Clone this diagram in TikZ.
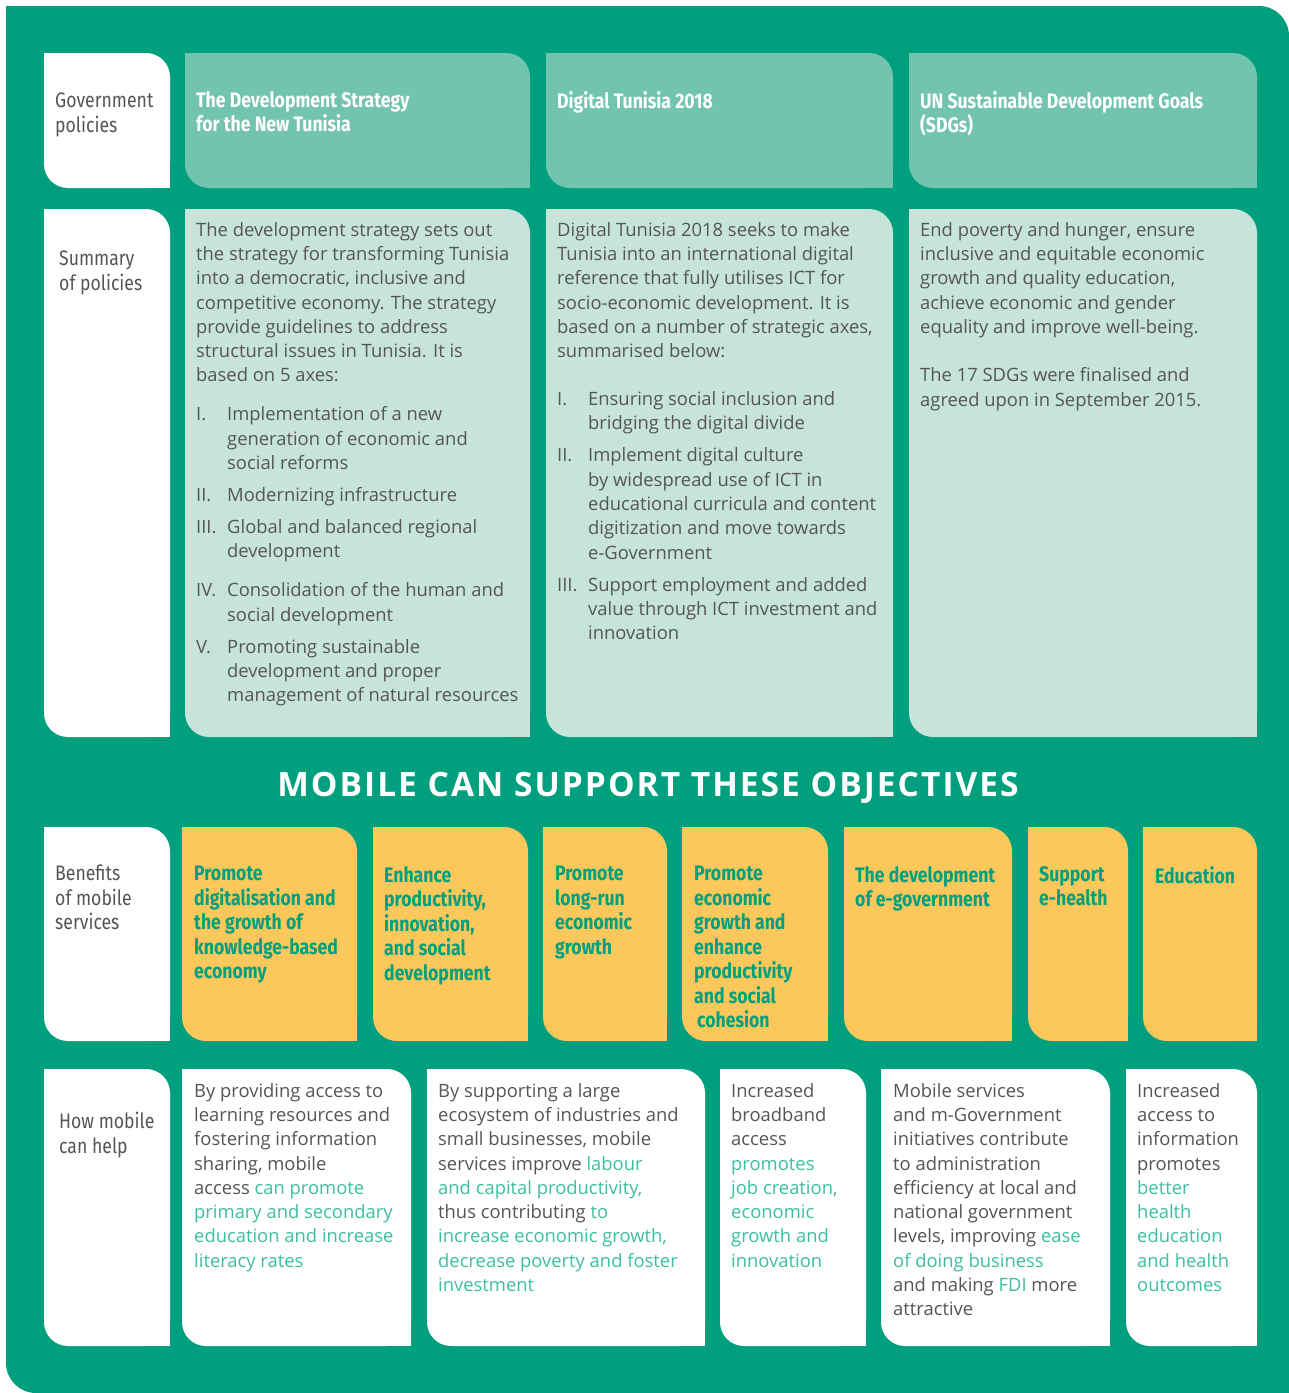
\documentclass[tikz,border=0pt]{standalone}
\usepackage{fontspec}
\setmainfont{Open Sans}
\newfontfamily\condfont[FakeStretch=0.84]{Fira Sans}
\newfontfamily\titlefont[LetterSpace=6]{Open Sans}
\usetikzlibrary{positioning}

\definecolor{mgreen}{RGB}{0,160,126}
\definecolor{headteal}{RGB}{114,196,174}
\definecolor{sumteal}{RGB}{199,228,218}
\definecolor{orangebox}{RGB}{252,200,92}
\definecolor{tealtxt}{RGB}{62,190,160}
\definecolor{greytxt}{RGB}{85,85,87}

% box with rounded top-right and bottom-left corners
\newcommand{\cellbox}[5]{%
  \fill[#1, rounded corners=24pt] (#2,#3) rectangle (#4,#5);
  \fill[#1] (#2,#3) rectangle ++(24,24);
  \fill[#1] (#4,#5) rectangle ++(-24,-24);
}
\newcommand{\itm}[1]{\makebox[31pt][l]{#1}}
\newcommand{\ind}{\hspace*{31pt}}
\newcommand{\tl}[1]{\textcolor{tealtxt}{#1}}

\tikzset{
  txt/.style={anchor=north west, inner sep=0pt, align=left},
  body/.style={txt, text=greytxt, font=\fontsize{18.4}{24.3}\selectfont},
  rowlbl/.style={txt, text=greytxt, font=\condfont\fontsize{21}{24.5}\selectfont},
  headtxt/.style={txt, text=white, font=\condfont\bfseries\fontsize{21}{24.5}\selectfont},
  benefit/.style={txt, text=mgreen, font=\condfont\bfseries\fontsize{21}{24.5}\selectfont},
}

\begin{document}
\begin{tikzpicture}[x=1pt, y=-1pt]
	\fill[white] (0,0) rectangle (1289,1393);
	\useasboundingbox (0,0) rectangle (1289,1393);
	\begin{scope}[rounded corners=30pt]
	\fill[mgreen] (6,6) rectangle (1289,1393);
	\end{scope}
	\fill[mgreen] (6,6) rectangle ++(30,30);
	\fill[mgreen] (1289,1393) rectangle ++(-30,-30);

	% row labels
	\foreach \ya/\yb in {53/188, 209/737, 827/1041, 1069/1346} {
		\cellbox{white}{44}{\ya}{170}{\yb}
	}
	\foreach \xa/\xb in {185/530, 546/893, 909/1257} {
		\cellbox{headteal}{\xa}{53}{\xb}{188}
		\cellbox{sumteal}{\xa}{209}{\xb}{737}
	}
	\foreach \xa/\xb in {182/357, 373/528, 543/667, 682/828, 844/1012, 1028/1128, 1143/1257} {
		\cellbox{orangebox}{\xa}{827}{\xb}{1041}
	}
	\foreach \xa/\xb in {182/411, 427/705, 720/866, 881/1110, 1126/1257} {
		\cellbox{white}{\xa}{1069}{\xb}{1346}
	}

	\node[rowlbl] (govlbl) at (55,93) {Government\\policies};
	\node[rowlbl] (sumlbl) at (59,251) {Summary\\of policies};
	\node[rowlbl] (benlbl) at (55,865) {Benefits\\of mobile\\services};
	\node[rowlbl] (howlbl) at (59,1112) {How mobile\\can help};

	\node[headtxt] (strat) at (196,91) {The Development Strategy\\for the New Tunisia};
	\node[headtxt] (digit) at (557,91) {Digital Tunisia 2018};
	\node[headtxt] (sdg) at (920,91) {UN Sustainable Development Goals\\(SDGs)};

	\node[body] (stratsum) at (196,222) {The development strategy sets out\\
the strategy for transforming Tunisia\\
into a democratic, inclusive and\\
competitive economy. The strategy\\
provide guidelines to address\\
structural issues in Tunisia. It is\\
based on 5 axes:\\[14.7pt]
\itm{I.}Implementation of a new\\
\ind generation of economic and\\
\ind social reforms\\[7.7pt]
\itm{II.}Modernizing infrastructure\\[7.7pt]
\itm{III.}Global and balanced regional\\
\ind development\\[14.7pt]
\itm{IV.}Consolidation of the human and\\
\ind social development\\[7.7pt]
\itm{V.}Promoting sustainable\\
\ind development and proper\\
\ind management of natural resources};

	\node[body] (digitsum) at (557,222) {Digital Tunisia 2018 seeks to make\\
Tunisia into an international digital\\
reference that fully utilises ICT for\\
socio-economic development. It is\\
based on a number of strategic axes,\\
summarised below:\\[23.7pt]
\itm{I.}Ensuring social inclusion and\\
\ind bridging the digital divide\\[7.7pt]
\itm{II.}Implement digital culture\\
\ind by widespread use of ICT in\\
\ind educational curricula and content\\
\ind digitization and move towards\\
\ind e-Government\\[7.7pt]
\itm{III.}Support employment and added\\
\ind value through ICT investment and\\
\ind innovation};

	\node[body] (sdgsum) at (920,222) {End poverty and hunger, ensure\\
inclusive and equitable economic\\
growth and quality education,\\
achieve economic and gender\\
equality and improve well-being.\\[24.3pt]
The 17 SDGs were finalised and\\
agreed upon in September 2015.};

	\node[text=white, font=\titlefont\bfseries\fontsize{33.5}{38}\selectfont] (title) at (648,788) {MOBILE CAN SUPPORT THESE OBJECTIVES};

	\node[benefit] (ben1) at (194,866) {Promote\\digitalisation and\\the growth of\\knowledge-based\\economy};
	\node[benefit] (ben2) at (384,866) {Enhance\\productivity,\\innovation,\\and social\\development};
	\node[benefit] (ben3) at (555,866) {Promote\\long-run\\economic\\growth};
	\node[benefit] (ben4) at (694,866) {Promote\\economic\\growth and\\enhance\\productivity\\and social\\\hspace*{3pt}cohesion};
	\node[benefit] (ben5) at (855,866) {The development\\of e-government};
	\node[benefit] (ben6) at (1039,866) {Support\\e-health};
	\node[benefit] (ben7) at (1155,866) {Education};

	\node[body] (how1) at (194,1083) {By providing access to\\
learning resources and\\
fostering information\\
sharing, mobile\\
access \tl{can promote}\\
\tl{primary and secondary}\\
\tl{education and increase}\\
\tl{literacy rates}};
	\node[body] (how2) at (438,1083) {By supporting a large\\
ecosystem of industries and\\
small businesses, mobile\\
services improve \tl{labour}\\
\tl{and capital productivity,}\\
thus contributing \tl{to}\\
\tl{increase economic growth,}\\
\tl{decrease poverty and foster}\\
\tl{investment}};
	\node[body] (how3) at (731,1083) {Increased\\
broadband\\
access\\
\tl{promotes}\\
\tl{job creation,}\\
\tl{economic}\\
\tl{growth and}\\
\tl{innovation}};
	\node[body] (how4) at (893,1083) {Mobile services\\
and m-Government\\
initiatives contribute\\
to administration\\
efficiency at local and\\
national government\\
levels, improving \tl{ease}\\
\tl{of doing business}\\
and making \tl{FDI} more\\
attractive};
	\node[body] (how5) at (1137,1083) {Increased\\
access to\\
information\\
promotes\\
\tl{better}\\
\tl{health}\\
\tl{education}\\
\tl{and health}\\
\tl{outcomes}};
\end{tikzpicture}
\end{document}
